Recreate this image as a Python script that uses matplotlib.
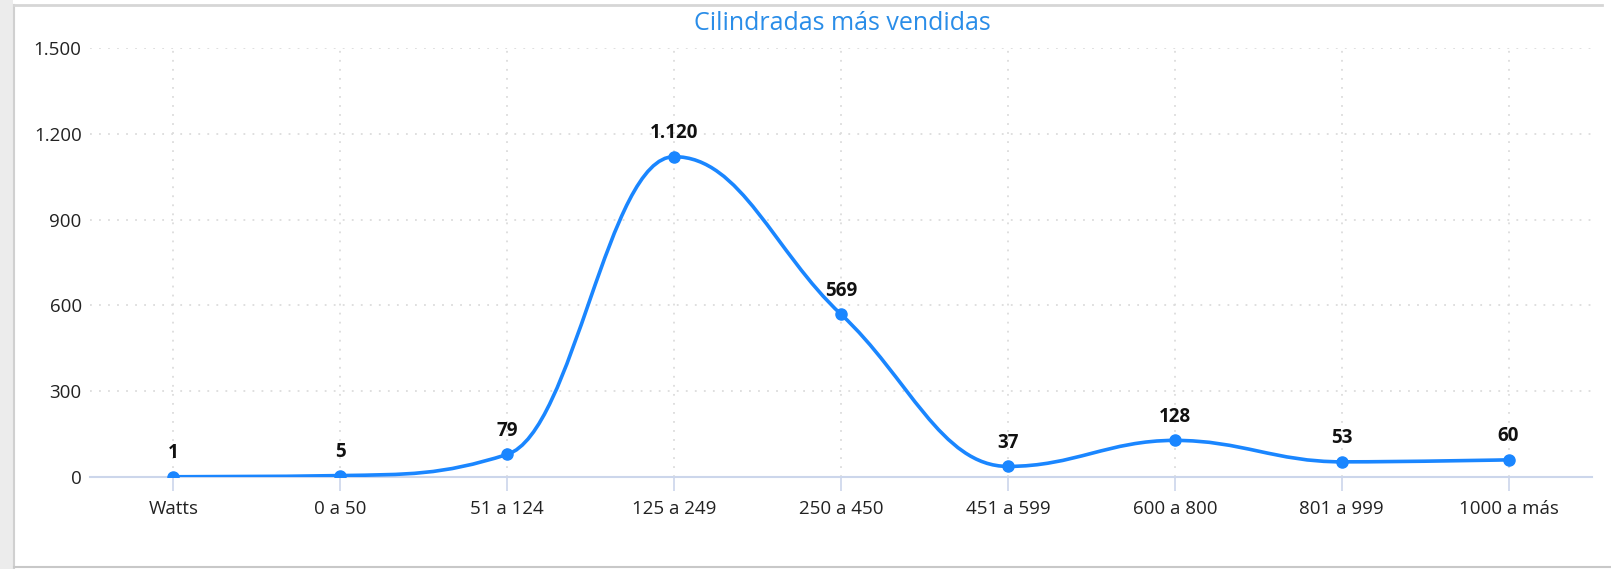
import numpy as np
import matplotlib.pyplot as plt
from matplotlib.path import Path
from matplotlib.patches import PathPatch, Rectangle
from matplotlib.lines import Line2D

plt.rcParams['font.family'] = ['Open Sans', 'DejaVu Sans']

categories = ['Watts', '0 a 50', '51 a 124', '125 a 249', '250 a 450',
              '451 a 599', '600 a 800', '801 a 999', '1000 a más']
ventas = [1, 5, 79, 1120, 569, 37, 128, 53, 60]
y_ticks = [0, 300, 600, 900, 1200, 1500]
title = 'Cilindradas más vendidas'

line_color = '#1a86ff'
grid_color = '#dcdcdc'
axis_color = '#ccd6eb'


def fmt(v):
    return f'{v:,}'.replace(',', '.')


def spline_path(xs, ys, smoothing=1.5):
    # Highcharts style spline: control points from neighbours
    n = len(xs)
    left = [None] * n
    right = [None] * n
    d = smoothing + 1
    for i in range(1, n - 1):
        px, py = xs[i], ys[i]
        lx, ly = xs[i - 1], ys[i - 1]
        nx, ny = xs[i + 1], ys[i + 1]
        lcx = (smoothing * px + lx) / d
        lcy = (smoothing * py + ly) / d
        rcx = (smoothing * px + nx) / d
        rcy = (smoothing * py + ny) / d
        if rcx != lcx:
            corr = (rcy - lcy) * (rcx - px) / (rcx - lcx) + py - rcy
            lcy += corr
            rcy += corr
        if lcy > ly and lcy > py:
            lcy = max(ly, py)
            rcy = 2 * py - lcy
        elif lcy < ly and lcy < py:
            lcy = min(ly, py)
            rcy = 2 * py - lcy
        if rcy > ny and rcy > py:
            rcy = max(ny, py)
            lcy = 2 * py - rcy
        elif rcy < ny and rcy < py:
            rcy = min(ny, py)
            lcy = 2 * py - rcy
        left[i] = (lcx, lcy)
        right[i] = (rcx, rcy)
    verts = [(xs[0], ys[0])]
    codes = [Path.MOVETO]
    for i in range(1, n):
        c1 = right[i - 1] or (xs[i - 1], ys[i - 1])
        c2 = left[i] or (xs[i], ys[i])
        verts += [c1, c2, (xs[i], ys[i])]
        codes += [Path.CURVE4] * 3
    return Path(verts, codes)


W, H = 1611, 569
fig = plt.figure(figsize=(W / 100, H / 100), dpi=100)
fig.patch.set_facecolor('white')

# window chrome around the chart
fig.patches.append(Rectangle((0, 0), 13 / W, 1, transform=fig.transFigure,
                             facecolor='#ececec', edgecolor='none', zorder=0))
fig.lines.append(Line2D([14 / W, 14 / W], [0, 1 - 5 / H], transform=fig.transFigure,
                        color='#d0d0d0', lw=1.5))
fig.lines.append(Line2D([14 / W, 1602 / W], [1 - 5 / H, 1 - 5 / H], transform=fig.transFigure,
                        color='#d6d6d6', lw=2))
fig.lines.append(Line2D([14 / W, 1], [1 - 567 / H, 1 - 567 / H], transform=fig.transFigure,
                        color='#c8c8c8', lw=1.5))

ax = fig.add_axes([90 / W, 92 / H, (1592 - 90) / W, (477 - 48) / H])
x = np.arange(len(categories))

ax.add_patch(PathPatch(spline_path(list(x), ventas), facecolor='none',
                       edgecolor=line_color, lw=2.6, zorder=3, capstyle='round'))
ax.plot(x, ventas, 'o', color=line_color, markersize=8, zorder=4)

for xi, v in zip(x, ventas):
    ax.annotate(fmt(v), (xi, v), xytext=(0, 17), textcoords='offset points',
                ha='center', va='center', fontsize=13.5, fontweight='bold',
                color='#111111', zorder=5)

ax.set_xlim(-0.5, len(categories) - 0.5)
ax.set_ylim(0, 1500)
ax.set_xticks(x)
ax.set_xticklabels(categories)
ax.set_yticks(y_ticks)
ax.set_yticklabels([fmt(t) for t in y_ticks])

for s in ['top', 'right', 'left']:
    ax.spines[s].set_visible(False)
ax.spines['bottom'].set_color(axis_color)
ax.spines['bottom'].set_linewidth(1.5)

ax.tick_params(axis='x', length=10, width=1.2, color=axis_color, pad=6.5,
               labelsize=13.5, labelcolor='#222222')
ax.tick_params(axis='y', length=0, pad=6, labelsize=13.5, labelcolor='#222222')

ax.grid(True, axis='both', color=grid_color, linestyle=(0, (1, 4)), lw=1.3)
ax.set_axisbelow(True)

fig.text(842 / W, 1 - 23 / H, title, ha='center', va='center',
         fontsize=18, color='#2a8de8')

fig.savefig('out.png', dpi=100)
